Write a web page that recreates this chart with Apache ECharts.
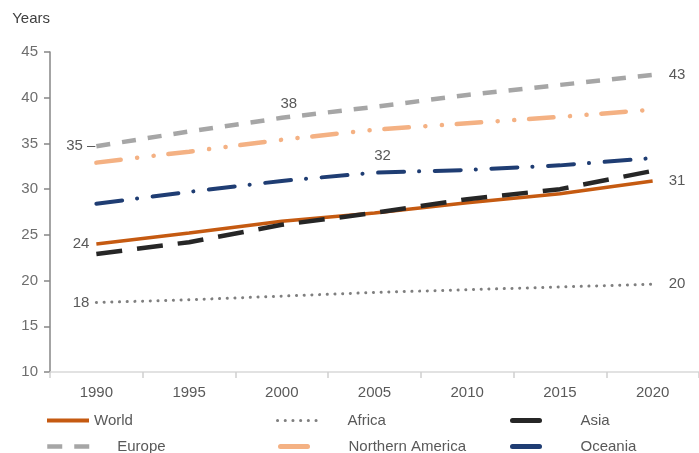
<!DOCTYPE html>
<html>
<head>
<meta charset="utf-8">
<script src="https://cdn.jsdelivr.net/npm/echarts@6/dist/echarts.min.js"></script>
<style>
  html, body { margin: 0; padding: 0; background: #ffffff; }
  #chart { width: 699px; height: 453px; }
</style>
</head>
<body>
<div id="chart"></div>
<script>
// Median age by region, years
const years = ['1990', '1995', '2000', '2005', '2010', '2015', '2020'];
const world = [24.0, 25.2, 26.5, 27.4, 28.5, 29.5, 30.9];
const africa = [17.6, 17.9, 18.3, 18.7, 19.0, 19.3, 19.6];
const asia = [22.9, 24.2, 26.1, 27.4, 28.9, 30.0, 32.0];
const europe = [34.7, 36.3, 37.8, 39.0, 40.3, 41.4, 42.5];
const northernAmerica = [32.9, 34.1, 35.4, 36.5, 37.2, 37.9, 38.7];
const oceania = [28.4, 29.7, 30.9, 31.8, 32.1, 32.6, 33.4];
const yMin = 10, yMax = 45, yStep = 5;

const FONT = "'Liberation Sans Narrow', 'Arial Narrow', 'Liberation Sans', Arial, sans-serif";
const TEXT = '#595959';
const txt = (color, extra) => Object.assign({ color: color, fontSize: 15, fontFamily: FONT }, extra || {});
const SOLID = [1000, 0];

// which points carry a value label, and where it sits
const labelPlacement = {
  World:   { 0: { position: 'left', distance: 7 }, 6: { position: 'right', distance: 16 } },
  Africa:  { 0: { position: 'left', distance: 7 }, 6: { position: 'right', distance: 16 } },
  Europe:  { 0: { position: 'left', distance: 1, lead: true }, 2: { position: 'top', distance: 6, offset: [7, 0] },
             6: { position: 'right', distance: 16 } },
  Oceania: { 3: { position: 'top', distance: 9, offset: [8, 0] } }
};

function buildData(name, values) {
  const spots = labelPlacement[name] || {};
  return values.map((v, i) => {
    const s = spots[i];
    if (!s) return v;
    return {
      value: v,
      label: txt(TEXT, {
        show: true,
        position: s.position,
        distance: s.distance,
        offset: s.offset || [0, 0],
        formatter: p => Math.round(p.value) + (s.lead ? ' \u2013' : '')
      })
    };
  });
}

function line(name, values, color, style) {
  return {
    name: name,
    type: 'line',
    data: buildData(name, values),
    symbol: 'circle',
    symbolSize: 0,
    showSymbol: true,
    animation: false,
    color: color,
    lineStyle: Object.assign({ color: color }, style),
    emphasis: { disabled: true }
  };
}

const series = [
  line('World', world, '#c55a11', { width: 3.5, type: 'solid' }),
  line('Africa', africa, '#7f7f7f', { width: 3, type: [0.1, 7.6], cap: 'round' }),
  line('Asia', asia, '#262626', { width: 4.5, type: [26, 15], cap: 'butt' }),
  line('Europe', europe, '#a6a6a6', { width: 4.5, type: [14, 12], cap: 'butt' }),
  line('Northern America', northernAmerica, '#f4b183', { width: 4.5, type: [24.5, 16.5, 0.1, 16.5, 0.1, 14.8], cap: 'round' }),
  line('Oceania', oceania, '#1f3d73', { width: 4, type: [26, 15, 0.1, 15.6], cap: 'round' })
];

// legend entries laid out as a 3 x 2 table
const legendLayout = [
  { name: 'World', left: 45, top: 413, w: 42, gap: 0, ls: { type: SOLID, width: 4, cap: 'butt' } },
  { name: 'Africa', left: 276, top: 413, w: 43, gap: 22, ls: { type: [0.1, 7.6], width: 3, cap: 'round' } },
  { name: 'Asia', left: 510, top: 413, w: 27, gap: 36, ls: { type: SOLID, width: 5, cap: 'round' } },
  { name: 'Europe', left: 45, top: 439, w: 43, gap: 22, ls: { type: [15, 12], width: 4.5, cap: 'butt' } },
  { name: 'Northern America', left: 278, top: 439, w: 27, gap: 36, ls: { type: SOLID, width: 5, cap: 'round' } },
  { name: 'Oceania', left: 510, top: 439, w: 27, gap: 36, ls: { type: SOLID, width: 5, cap: 'round' } }
];

const legends = legendLayout.map(l => ({
  data: [l.name],
  left: l.left,
  top: l.top,
  padding: 0,
  itemWidth: l.w,
  itemHeight: 14,
  selectedMode: false,
  itemStyle: { opacity: 0 },
  lineStyle: l.ls,
  textStyle: txt(TEXT, { padding: [0, 0, 0, l.gap] })
}));

const chart = echarts.init(document.getElementById('chart'), null, { renderer: 'canvas' });
chart.setOption({
  backgroundColor: '#ffffff',
  animation: false,
  grid: { left: 50, right: -7, top: 52, bottom: 81, containLabel: false },
  legend: legends,
  xAxis: {
    type: 'category',
    data: years,
    boundaryGap: true,
    axisLine: { lineStyle: { color: '#d9d9d9', width: 1.5 } },
    axisTick: { show: true, length: 6, lineStyle: { color: '#d0d0d0', width: 1.5 } },
    axisLabel: txt(TEXT, { margin: 13 }),
    splitLine: { show: false }
  },
  yAxis: {
    type: 'value',
    min: yMin,
    max: yMax,
    interval: yStep,
    name: 'Years',
    nameLocation: 'end',
    nameGap: 26,
    nameTextStyle: txt('#404040', { align: 'right' }),
    axisLine: { show: true, lineStyle: { color: '#868686', width: 1.5 } },
    axisTick: { show: true, length: 6, lineStyle: { color: '#868686', width: 1.5 } },
    axisLabel: txt('#6e6e6e', { margin: 12 }),
    splitLine: { show: false }
  },
  series: series
});
</script>
</body>
</html>
